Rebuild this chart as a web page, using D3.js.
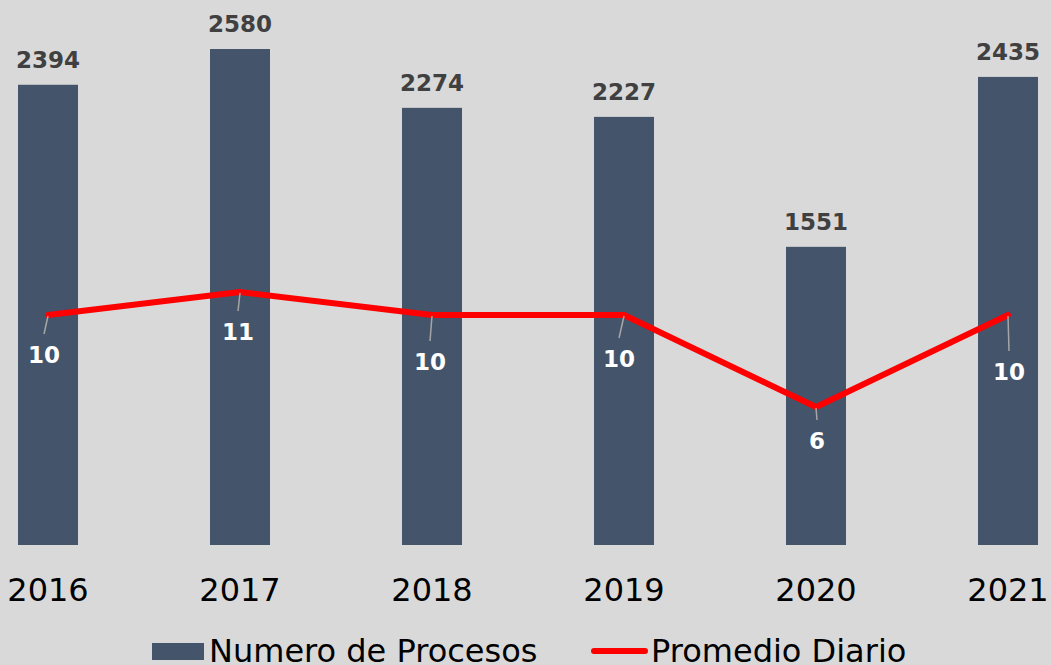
<!DOCTYPE html>
<html>
<head>
<meta charset="utf-8">
<script src="https://cdn.jsdelivr.net/npm/d3@7"></script>
<style>
  html, body { margin: 0; padding: 0; background: #d9d9d9; }
  svg { display: block; }
</style>
</head>
<body>
<script>
const years = ["2016", "2017", "2018", "2019", "2020", "2021"];
const procesos = [2394, 2580, 2274, 2227, 1551, 2435];
const promedio = [10, 11, 10, 10, 6, 10];
const seriesNames = ["Numero de Procesos", "Promedio Diario"];
// label placement for line labels (offset from point: dx, baseline dy)
const lineLabelDx = [-4, -2, -2, -5, 1, 1];
const lineLabelDy = [48, 48, 55, 52, 42, 65];

const W = 1051, H = 665;
const svg = d3.select("body").append("svg").attr("width", W).attr("height", H);
svg.append("rect").attr("width", W).attr("height", H).attr("fill", "#d9d9d9");

const x = d3.scaleBand().domain(years).range([-48, 1104]).paddingInner(0.6875).paddingOuter(0.34375);
const y = d3.scaleLinear().domain([0, 2835]).range([545, 0]);
const y2 = d3.scaleLinear().domain([0, 545 / 23]).range([545, 0]);

const font = "'DejaVu Sans', Verdana, sans-serif";

// bars
svg.selectAll("rect.bar").data(years).enter().append("rect")
  .attr("class", "bar")
  .attr("x", d => x(d))
  .attr("width", x.bandwidth())
  .attr("y", (d, i) => y(procesos[i]))
  .attr("height", (d, i) => y(0) - y(procesos[i]))
  .attr("fill", "#44546a");

// bar labels
svg.selectAll("text.blabel").data(years).enter().append("text")
  .attr("x", d => x(d) + x.bandwidth() / 2)
  .attr("y", (d, i) => y(procesos[i]) - 17)
  .attr("text-anchor", "middle")
  .attr("font-family", font).attr("font-weight", "bold").attr("font-size", 23)
  .attr("fill", "#404040")
  .text((d, i) => procesos[i]);

// x axis
const xAxis = d3.axisBottom(x).tickSize(0).tickPadding(0);
const gx = svg.append("g").attr("transform", "translate(0,578)").call(xAxis);
gx.select(".domain").remove();
gx.selectAll("text").attr("font-family", font).attr("font-size", 32).attr("fill", "#000")
  .attr("dy", "0.71em");

// line
const cx = d => x(d) + x.bandwidth() / 2;
const line = d3.line().x((d, i) => cx(years[i])).y(d => y2(d));
svg.append("path").datum(promedio)
  .attr("d", line)
  .attr("fill", "none").attr("stroke", "#ff0000").attr("stroke-width", 6)
  .attr("stroke-linejoin", "round").attr("stroke-linecap", "round");

// leader lines
svg.selectAll("line.leader").data(years).enter().append("line")
  .attr("x1", d => cx(d))
  .attr("y1", (d, i) => y2(promedio[i]) + 1)
  .attr("x2", (d, i) => cx(d) + lineLabelDx[i])
  .attr("y2", (d, i) => y2(promedio[i]) + lineLabelDy[i] - 29)
  .attr("stroke", "#a6a6a6").attr("stroke-width", 1.5);

// line labels
svg.selectAll("text.llabel").data(years).enter().append("text")
  .attr("x", (d, i) => cx(d) + lineLabelDx[i])
  .attr("y", (d, i) => y2(promedio[i]) + lineLabelDy[i])
  .attr("text-anchor", "middle")
  .attr("font-family", font).attr("font-weight", "bold").attr("font-size", 23)
  .attr("fill", "#ffffff")
  .text((d, i) => promedio[i]);

// legend
const lg = svg.append("g");
lg.append("rect").attr("x", 152).attr("y", 643).attr("width", 52).attr("height", 17).attr("fill", "#44546a");
lg.append("text").attr("x", 209).attr("y", 662)
  .attr("font-family", font).attr("font-size", 32).attr("fill", "#000").text(seriesNames[0]);
lg.append("line").attr("x1", 594).attr("x2", 645).attr("y1", 651).attr("y2", 651)
  .attr("stroke", "#ff0000").attr("stroke-width", 6).attr("stroke-linecap", "round");
lg.append("text").attr("x", 651).attr("y", 662)
  .attr("font-family", font).attr("font-size", 32).attr("fill", "#000").text(seriesNames[1]);
</script>
</body>
</html>
